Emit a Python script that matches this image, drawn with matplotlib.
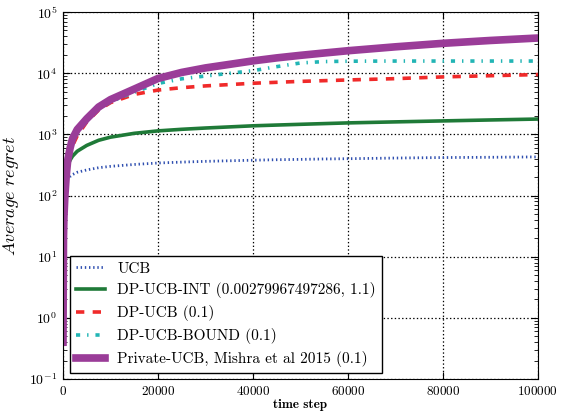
import matplotlib
matplotlib.use('Agg')
import matplotlib.pyplot as plt
from matplotlib.ticker import FixedLocator, NullFormatter

plt.rcParams['font.family'] = 'serif'
plt.rcParams['font.serif'] = ['cmr10', 'DejaVu Serif']
plt.rcParams['mathtext.fontset'] = 'cm'
plt.rcParams['axes.formatter.use_mathtext'] = True
# old-style dashes: pattern not scaled with line width
plt.rcParams['lines.scale_dashes'] = False

t = [1, 100, 200, 400, 700, 1000, 1500, 2000, 3000, 5000, 7500, 10000, 15000, 20000,
     25000, 30000, 40000, 45000, 50000, 55000, 60000, 70000, 80000, 90000, 100000]

ucb = [0.4, 60, 100, 140, 165, 185, 205, 220, 240, 262, 285, 300, 322, 340,
       352, 362, 378, 385, 390, 396, 400, 410, 418, 422, 428]
dp_ucb_int = [0.4, 40, 90, 170, 250, 310, 380, 440, 530, 660, 800, 900, 1040, 1140,
              1210, 1270, 1380, 1420, 1460, 1500, 1540, 1600, 1660, 1720, 1780]
dp_ucb = [0.4, 15, 45, 100, 200, 300, 480, 650, 950, 1600, 2500, 3300, 4500, 5300,
          5800, 6200, 6850, 7100, 7350, 7550, 7750, 8150, 8700, 9100, 9500]
dp_ucb_bound = [0.4, 15, 45, 100, 230, 350, 550, 750, 1100, 1700, 2600, 3400, 4900, 6800,
                8100, 9000, 11000, 12800, 14700, 15500, 15700, 15800, 15800, 15800, 15800]
private_ucb = [0.4, 20, 45, 100, 220, 380, 600, 850, 1200, 1800, 2800, 3700, 5500, 8200,
               10300, 12200, 15900, 17800, 19600, 21400, 23300, 27000, 30800, 34300, 37600]

labels = ['UCB', 'DP-UCB-INT (0.00279967497286, 1.1)', 'DP-UCB (0.1)',
          'DP-UCB-BOUND (0.1)', 'Private-UCB, Mishra et al 2015 (0.1)']
xticks = [0, 20000, 40000, 60000, 80000, 100000]
yticks = [1e-1, 1e0, 1e1, 1e2, 1e3, 1e4, 1e5]

fig = plt.figure(figsize=(5.61, 4.15), dpi=100)
ax = fig.add_axes([0.1123, 0.0867, 0.8467, 0.8843])

ax.plot(t, ucb, color='#2f4fb0', lw=2, dashes=(1, 2), label=labels[0])
ax.plot(t, dp_ucb_int, '-', color='#1f7a38', lw=2.6, label=labels[1])
ax.plot(t, dp_ucb, color='#f02a2a', lw=2.6, dashes=(6, 6), label=labels[2])
ax.plot(t, dp_ucb_bound, color='#22b5b5', lw=2.6, dashes=(3, 5, 1, 5), label=labels[3])
ax.plot(t, private_ucb, '-', color='#9a3c98', lw=5.5, label=labels[4])

ax.set_yscale('log')
ax.set_ylim(0.1, 1e5)
ax.set_xlim(0, 100000)
ax.xaxis.set_major_locator(FixedLocator(xticks))
ax.yaxis.set_major_locator(FixedLocator(yticks))
minor = [m * d for d in yticks[:-1] for m in range(2, 10)]
ax.yaxis.set_minor_locator(FixedLocator(minor))
ax.yaxis.set_minor_formatter(NullFormatter())

ax.tick_params(which='both', direction='in', top=True, right=True)
ax.tick_params(axis='x', labelsize=9.5, pad=4)
ax.tick_params(axis='y', labelsize=10, pad=4)
ax.tick_params(which='major', length=5)
ax.tick_params(which='minor', length=3)
ax.grid(True, which='major', color='k', linestyle=':', lw=0.9)

ax.set_xlabel('time step', fontsize=9.5, fontfamily='cmb10', labelpad=1)
ax.set_ylabel(r'$Average\ regret$', fontsize=13, labelpad=6)

leg = ax.legend(loc='lower left', bbox_to_anchor=(0.015, 0.016), borderaxespad=0,
                fancybox=False, fontsize=11, handlelength=1.9, labelspacing=0.45,
                framealpha=1)
leg.get_frame().set_edgecolor('k')
leg.get_frame().set_linewidth(1)

fig.savefig('out.png', dpi=100)
